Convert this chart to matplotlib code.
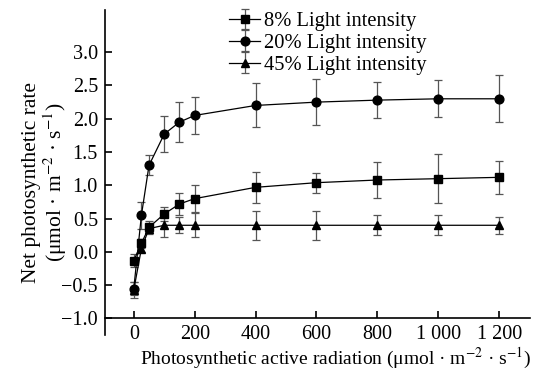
import numpy as np
import matplotlib.pyplot as plt

plt.rcParams['font.family'] = ['Liberation Serif', 'DejaVu Serif']
plt.rcParams['mathtext.fontset'] = 'stix'

# light intensity (x) and net photosynthetic rate for each shading level
par = [0, 25, 50, 100, 150, 200, 400, 600, 800, 1000, 1200]

pn_8 = [-0.13, 0.13, 0.37, 0.57, 0.72, 0.80, 0.97, 1.04, 1.08, 1.10, 1.12]
err_8 = [0.10, 0.07, 0.10, 0.10, 0.17, 0.20, 0.23, 0.15, 0.27, 0.37, 0.25]

pn_20 = [-0.55, 0.55, 1.30, 1.77, 1.95, 2.05, 2.20, 2.25, 2.28, 2.30, 2.30]
err_20 = [0.10, 0.20, 0.15, 0.27, 0.30, 0.28, 0.33, 0.35, 0.27, 0.28, 0.35]

pn_45 = [-0.57, 0.05, 0.35, 0.40, 0.40, 0.40, 0.40, 0.40, 0.40, 0.40, 0.40]
err_45 = [0.12, 0.05, 0.07, 0.18, 0.12, 0.18, 0.22, 0.22, 0.15, 0.15, 0.13]

labels = ['8% Light intensity', '20% Light intensity', '45% Light intensity']
xticks = [0, 200, 400, 600, 800, 1000, 1200]
xticklabels = ['0', '200', '400', '600', '800', '1 000', '1 200']
yticks = [-1.0, -0.5, 0.0, 0.5, 1.0, 1.5, 2.0, 2.5, 3.0]

fig = plt.figure(figsize=(5.35, 3.7), dpi=100)
ax = fig.add_axes([0.196, 0.095, 0.794, 0.878])

series = [(pn_8, err_8, 's'), (pn_20, err_20, 'o'), (pn_45, err_45, '^')]
for (y, e, m), lab in zip(series, labels):
    ax.errorbar(par, y, yerr=e, color='black', marker=m, markersize=6.3,
                linewidth=0.9, elinewidth=0.9, ecolor='#555555', capsize=3,
                capthick=0.9, label=lab)

ax.set_xlim(-95, 1300)
ax.set_ylim(-1.246, 3.634)
ax.spines['top'].set_visible(False)
ax.spines['right'].set_visible(False)
ax.spines['bottom'].set_position(('data', -1.0))
ax.spines['left'].set_linewidth(1.2)
ax.spines['bottom'].set_linewidth(1.2)

ax.set_xticks(xticks)
ax.set_xticklabels(xticklabels)
ax.set_yticks(yticks)
ax.set_yticklabels(['\u22121.0', '\u22120.5', '0.0', '0.5', '1.0', '1.5', '2.0', '2.5', '3.0'])
ax.tick_params(direction='in', length=5, width=1.2, labelsize=14.5, pad=5)

ax.set_xlabel('Photosynthetic active radiation (\u03bcmol \u00b7 m$^{-2}$ \u00b7 s$^{-1}$)',
              fontsize=14)
ax.xaxis.set_label_coords(0.543, -0.035)
ax.set_ylabel('Net photosynthetic rate\n(\u03bcmol \u00b7 m$^{-2}$ \u00b7 s$^{-1}$)',
              fontsize=15.5, linespacing=1.0)
ax.yaxis.set_label_coords(-0.085, 0.47)

ax.legend(loc='upper center', bbox_to_anchor=(0.525, 1.02), frameon=False,
          fontsize=14.8, handlelength=1.5, handletextpad=0.2, labelspacing=0.12,
          borderaxespad=0)

fig.savefig('out.png', dpi=100)
